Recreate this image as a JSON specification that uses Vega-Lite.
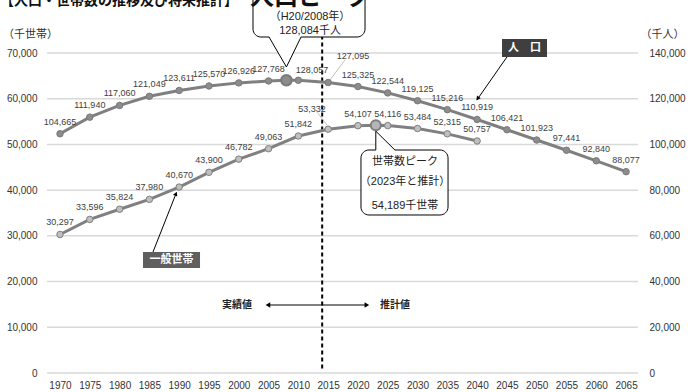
{
  "$schema": "https://vega.github.io/schema/vega-lite/v6.json",
  "width": 591,
  "height": 320,
  "autosize": {"type": "none"},
  "padding": {"left": 47, "top": 53, "right": 50, "bottom": 19},
  "config": {
    "view": {"stroke": null},
    "font": "Liberation Sans, Noto Sans CJK JP",
    "text": {"font": "Liberation Sans, Noto Sans CJK JP"},
    "axis": {"labelFont": "Liberation Sans, Noto Sans CJK JP", "titleFont": "Liberation Sans, Noto Sans CJK JP", "labelColor": "#333333", "titleColor": "#333333"}
  },
  "datasets": {
    "hh": [
      {"year": 1970, "value": 30297}, {"year": 1975, "value": 33596}, {"year": 1980, "value": 35824},
      {"year": 1985, "value": 37980}, {"year": 1990, "value": 40670}, {"year": 1995, "value": 43900},
      {"year": 2000, "value": 46782}, {"year": 2005, "value": 49063}, {"year": 2010, "value": 51842},
      {"year": 2015, "value": 53332}, {"year": 2020, "value": 54107}, {"year": 2023, "value": 54189},
      {"year": 2025, "value": 54116}, {"year": 2030, "value": 53484}, {"year": 2035, "value": 52315},
      {"year": 2040, "value": 50757}
    ],
    "pop": [
      {"year": 1970, "value": 104665}, {"year": 1975, "value": 111940}, {"year": 1980, "value": 117060},
      {"year": 1985, "value": 121049}, {"year": 1990, "value": 123611}, {"year": 1995, "value": 125570},
      {"year": 2000, "value": 126926}, {"year": 2005, "value": 127768}, {"year": 2008, "value": 128084},
      {"year": 2010, "value": 128057}, {"year": 2015, "value": 127095}, {"year": 2020, "value": 125325},
      {"year": 2025, "value": 122544}, {"year": 2030, "value": 119125}, {"year": 2035, "value": 115216},
      {"year": 2040, "value": 110919}, {"year": 2045, "value": 106421}, {"year": 2050, "value": 101923},
      {"year": 2055, "value": 97441}, {"year": 2060, "value": 92840}, {"year": 2065, "value": 88077}
    ]
  },
  "encoding": {
    "x": {"field": "year", "type": "quantitative", "scale": {"domain": [1967.82, 2067.0], "nice": false, "zero": false},
      "axis": {"values": [1970, 1975, 1980, 1985, 1990, 1995, 2000, 2005, 2010, 2015, 2020, 2025, 2030, 2035, 2040, 2045, 2050, 2055, 2060, 2065], "format": "d", "title": null, "grid": false, "ticks": false, "domain": false, "labelPadding": 7, "labelFontSize": 10, "labelFlush": false, "labelOverlap": false}}
  },
  "resolve": {"scale": {"y": "independent"}, "axis": {"y": "independent"}},
  "layer": [
    {
      "encoding": {
        "y": {"field": "value", "type": "quantitative", "scale": {"domain": [0, 70000], "nice": false},
          "axis": {"values": [0, 10000, 20000, 30000, 40000, 50000, 60000, 70000], "format": ",.0f", "title": "（千世帯）", "titleAngle": 0, "titleX": -17, "titleY": -19, "titleAlign": "center", "titleBaseline": "middle", "titleFontWeight": "normal", "titleFontSize": 11, "grid": false, "ticks": false, "domain": false, "labelPadding": 10, "labelFontSize": 10}}
      },
      "layer": [
        {
          "data": {"values": [
            {"year": 1967.82, "year2": 2067.0, "value": 0}, {"year": 1967.82, "year2": 2067.0, "value": 10000},
            {"year": 1967.82, "year2": 2067.0, "value": 20000}, {"year": 1967.82, "year2": 2067.0, "value": 30000},
            {"year": 1967.82, "year2": 2067.0, "value": 40000}, {"year": 1967.82, "year2": 2067.0, "value": 50000},
            {"year": 1967.82, "year2": 2067.0, "value": 60000}, {"year": 1967.82, "year2": 2067.0, "value": 70000}
          ]},
          "mark": {"type": "rule", "color": "#d9d9d9", "strokeWidth": 1.5},
          "encoding": {"x2": {"field": "year2"}}
        },
        {
          "data": {"values": [{"year": 2014, "value": 1000, "value2": 77000}]},
          "mark": {"type": "rule", "color": "#000000", "strokeWidth": 2, "strokeDash": [4, 3]},
          "encoding": {"y2": {"field": "value2"}}
        },
        {
          "data": {"name": "hh"},
          "mark": {"type": "line", "color": "#808080", "strokeWidth": 3},
          "encoding": {}
        },
        {
          "data": {"name": "hh"},
          "transform": [{"filter": "datum.year != 2023"}],
          "mark": {"type": "point", "filled": true, "size": 42, "fill": "#bfbfbf", "stroke": "#7f7f7f", "strokeWidth": 1, "opacity": 1},
          "encoding": {}
        },
        {
          "data": {"name": "hh"},
          "transform": [{"filter": "datum.year == 2023"}],
          "mark": {"type": "point", "filled": true, "size": 100, "fill": "#b5b5b5", "stroke": "#7f7f7f", "strokeWidth": 2, "opacity": 1},
          "encoding": {}
        },
        {
          "data": {"name": "hh"},
          "transform": [{"filter": "datum.year != 2023 && datum.year != 2015"}],
          "mark": {"type": "text", "dy": -12, "fontSize": 9, "color": "#404040"},
          "encoding": {"text": {"field": "value", "type": "quantitative", "format": ","}}
        },
        {
          "data": {"values": [
            {"id": "a", "year": 2015.31, "value": 64094}, {"id": "a", "year": 2017.83, "value": 68469},
            {"id": "b", "year": 2013.13, "value": 57094}, {"id": "b", "year": 2014.81, "value": 54250}
          ]},
          "mark": {"type": "line", "color": "#b0b0b0", "strokeWidth": 0.8},
          "encoding": {"detail": {"field": "id"}}
        },
        {
          "data": {"values": [
            {"year": 2012.29, "value": 66281, "text": "128,057"},
            {"year": 2019.17, "value": 69344, "text": "127,095"},
            {"year": 2012.29, "value": 57750, "text": "53,332"}
          ]},
          "mark": {"type": "text", "fontSize": 9, "color": "#404040"},
          "encoding": {"text": {"field": "text"}}
        },
        {
          "data": {"values": [
            {"year": 2002.39, "year2": 2021.19, "value": 73500, "value2": 83781},
            {"year": 2020.51, "year2": 2035.12, "value": 34563, "value2": 48781}
          ]},
          "mark": {"type": "rect", "fill": "#ffffff", "stroke": "#000000", "strokeWidth": 1, "cornerRadius": 8},
          "encoding": {"x2": {"field": "year2"}, "y2": {"field": "value2"}}
        },
        {
          "data": {"values": [
            {"id": "p", "year": 2005.08, "value": 74000, "value2": 73500},
            {"id": "p", "year": 2008.0, "value": 74000, "value2": 66938},
            {"id": "p", "year": 2010.45, "value": 74000, "value2": 73500},
            {"id": "h", "year": 2023.0, "value": 48300, "value2": 52900},
            {"id": "h", "year": 2026.2, "value": 48300, "value2": 48781}
          ]},
          "mark": {"type": "area", "color": "#ffffff", "opacity": 1},
          "encoding": {"y2": {"field": "value2"}, "detail": {"field": "id"}}
        },
        {
          "data": {"values": [
            {"id": "p", "seq": 1, "year": 2005.08, "value": 73500},
            {"id": "p", "seq": 2, "year": 2008.0, "value": 66938},
            {"id": "p", "seq": 3, "year": 2010.45, "value": 73500},
            {"id": "h", "seq": 1, "year": 2023.0, "value": 48781},
            {"id": "h", "seq": 2, "year": 2023.0, "value": 52900},
            {"id": "h", "seq": 3, "year": 2026.2, "value": 48781}
          ]},
          "mark": {"type": "line", "color": "#000000", "strokeWidth": 1},
          "encoding": {"detail": {"field": "id"}, "order": {"field": "seq"}}
        },
        {
          "data": {"values": [
            {"year": 2011.96, "value": 77875, "text": "（H20/2008年）"},
            {"year": 2011.96, "value": 74813, "text": "128,084千人"},
            {"year": 2027.9, "value": 46156, "text": "世帯数ピーク"},
            {"year": 2027.9, "value": 41781, "text": "（2023年と推計）"},
            {"year": 2027.9, "value": 36531, "text": "54,189千世帯"}
          ]},
          "mark": {"type": "text", "fontSize": 11, "color": "#222222"},
          "encoding": {"text": {"field": "text"}}
        },
        {
          "data": {"values": [{"year": 2011.96, "value": 80500, "text": "人口ピーク"}]},
          "mark": {"type": "text", "fontSize": 24, "fontWeight": "bold", "baseline": "alphabetic", "color": "#111111"},
          "encoding": {"text": {"field": "text"}}
        },
        {
          "data": {"values": [{"year": 1959.93, "value": 80500, "text": "【人口・世帯数の推移及び将来推計】"}]},
          "mark": {"type": "text", "fontSize": 14, "fontWeight": "bold", "align": "left", "baseline": "alphabetic", "color": "#111111"},
          "encoding": {"text": {"field": "text"}}
        },
        {
          "data": {"values": [
            {"name": "人　口", "year": 2044.18, "year2": 2051.73, "value": 69125, "value2": 73063},
            {"name": "一般世帯", "year": 1983.93, "year2": 1993.5, "value": 22969, "value2": 26469}
          ]},
          "mark": {"type": "rect", "opacity": 1},
          "encoding": {
            "x2": {"field": "year2"},
            "y2": {"field": "value2"},
            "color": {"field": "name", "type": "nominal", "scale": {"domain": ["人　口", "一般世帯"], "range": ["#3f3f3f", "#5f5f5f"]}, "legend": null}
          }
        },
        {
          "data": {"values": [
            {"year": 2047.96, "value": 71094, "text": "人　口"},
            {"year": 1988.72, "value": 24719, "text": "一般世帯"}
          ]},
          "mark": {"type": "text", "fontSize": 11, "fontWeight": "bold", "color": "#ffffff"},
          "encoding": {"text": {"field": "text"}}
        },
        {
          "data": {"values": [
            {"id": "p", "year": 2045.0, "value": 69125}, {"id": "p", "year": 2039.95, "value": 59700},
            {"id": "h", "year": 1985.61, "value": 26469}, {"id": "h", "year": 1989.55, "value": 39500},
            {"id": "d", "year": 2004.9, "value": 14875}, {"id": "d", "year": 2021.5, "value": 14875}
          ]},
          "mark": {"type": "line", "color": "#000000", "strokeWidth": 1},
          "encoding": {"detail": {"field": "id"}}
        },
        {
          "data": {"values": [{"year": 2040.1, "value": 60025}]},
          "mark": {"type": "point", "shape": "triangle-up", "angle": 215, "filled": true, "color": "#000000", "size": 22, "opacity": 1},
          "encoding": {}
        },
        {
          "data": {"values": [{"year": 1989.45, "value": 39200}]},
          "mark": {"type": "point", "shape": "triangle-up", "angle": 21, "filled": true, "color": "#000000", "size": 22, "opacity": 1},
          "encoding": {}
        },
        {
          "data": {"values": [{"year": 2004.9, "value": 14875}]},
          "mark": {"type": "point", "shape": "triangle-left", "filled": true, "color": "#000000", "size": 28, "opacity": 1},
          "encoding": {}
        },
        {
          "data": {"values": [{"year": 2021.5, "value": 14875}]},
          "mark": {"type": "point", "shape": "triangle-right", "filled": true, "color": "#000000", "size": 28, "opacity": 1},
          "encoding": {}
        },
        {
          "data": {"values": [{"year": 2002.22, "value": 14875, "text": "実績値"}]},
          "mark": {"type": "text", "fontSize": 10, "fontWeight": "bold", "align": "right", "color": "#222222"},
          "encoding": {"text": {"field": "text"}}
        },
        {
          "data": {"values": [{"year": 2023.7, "value": 14875, "text": "推計値"}]},
          "mark": {"type": "text", "fontSize": 10, "fontWeight": "bold", "align": "left", "color": "#222222"},
          "encoding": {"text": {"field": "text"}}
        }
      ]
    },
    {
      "data": {"name": "pop"},
      "encoding": {
        "y": {"field": "value", "type": "quantitative", "scale": {"domain": [0, 140000], "nice": false},
          "axis": {"orient": "right", "values": [0, 20000, 40000, 60000, 80000, 100000, 120000, 140000], "format": ",.0f", "title": "（千人）", "titleAngle": 0, "titleX": 24, "titleY": -19, "titleAlign": "center", "titleBaseline": "middle", "titleFontWeight": "normal", "titleFontSize": 11, "grid": false, "ticks": false, "domain": false, "labelPadding": 11, "labelFontSize": 10}}
      },
      "layer": [
        {
          "mark": {"type": "line", "color": "#7f7f7f", "strokeWidth": 3},
          "encoding": {}
        },
        {
          "transform": [{"filter": "datum.year != 2008"}],
          "mark": {"type": "point", "filled": true, "size": 42, "fill": "#8c8c8c", "stroke": "#7a7a7a", "strokeWidth": 1, "opacity": 1},
          "encoding": {}
        },
        {
          "transform": [{"filter": "datum.year == 2008"}],
          "mark": {"type": "point", "filled": true, "size": 110, "fill": "#8c8c8c", "stroke": "#7a7a7a", "strokeWidth": 2, "opacity": 1},
          "encoding": {}
        },
        {
          "transform": [{"filter": "datum.year != 2008 && datum.year != 2010 && datum.year != 2015"}],
          "mark": {"type": "text", "dy": -12, "fontSize": 9, "color": "#404040"},
          "encoding": {"text": {"field": "value", "type": "quantitative", "format": ","}}
        }
      ]
    }
  ]
}
